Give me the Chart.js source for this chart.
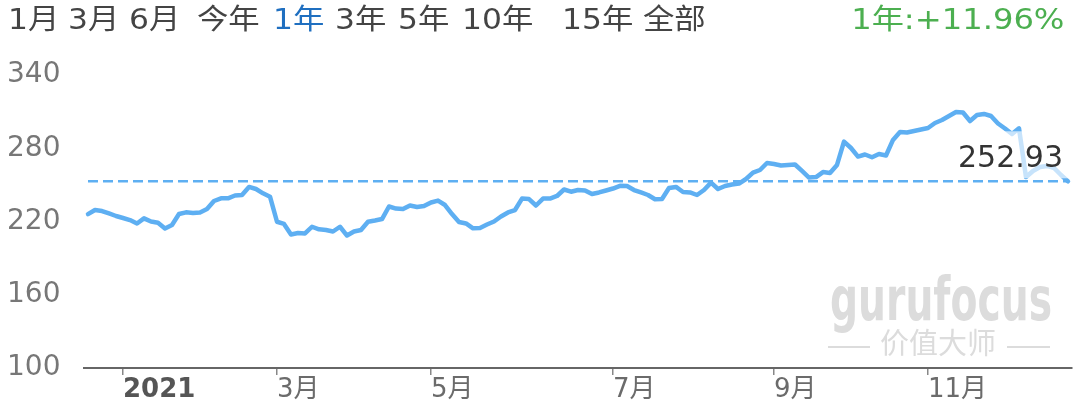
<!DOCTYPE html>
<html>
<head>
<meta charset="utf-8">
<script src="https://cdn.jsdelivr.net/npm/chart.js@4/dist/chart.umd.min.js"></script>
<style>
    html, body { margin: 0; padding: 0; background: #fff; }
    #wrap { position: relative; width: 1080px; height: 415px; overflow: hidden; font-family: "DejaVu Sans", "Noto Sans CJK SC", sans-serif; }
    #chart { position: absolute; left: 0; top: 0; }
    .tab { position: absolute; top: 2px; font-size: 28px; line-height: 36px; color: #444; white-space: nowrap; transform: scaleX(1.12); transform-origin: left center; }
    .tab.active { color: #1f6fc0; }
    #change { position: absolute; top: 2px; right: 16px; font-size: 28px; line-height: 36px; color: #4caf50; white-space: nowrap; transform: scaleX(1.15); transform-origin: right center; }
</style>
</head>
<body>
<div id="wrap">
    <canvas id="chart" width="1080" height="415"></canvas>
    <div id="tabs"></div>
    <div id="change"></div>
</div>
<script>
// datos del gráfico
const rangeTabs = ['1月', '3月', '6月', '今年', '1年', '3年', '5年', '10年', '15年', '全部'];
const activeTab = '1年';
const changeText = '1年:+11.96%';

const yTicks = [100, 160, 220, 280, 340];
const monthLabels = ['2021', '3月', '5月', '7月', '9月', '11月'];
const monthStartIdx = [5, 27, 49, 75, 98, 120];

const prices = [
    226.0, 229.4, 228.6, 226.6, 224.5, 222.9, 221.2, 218.4, 222.6, 220.0,
    219.0, 214.3, 217.1, 226.1, 227.5, 227.0, 227.4, 230.2, 236.8, 239.0,
    239.0, 241.3, 241.7, 248.3, 246.6, 243.1, 240.3, 219.8, 218.0, 209.4,
    210.6, 210.2, 215.7, 213.6, 213.0, 211.8, 215.7, 208.5, 211.8, 213.0,
    219.8, 220.8, 222.0, 232.3, 230.6, 230.2, 233.1, 231.9, 232.7, 235.6,
    237.1, 233.5, 226.1, 219.6, 218.4, 214.4, 214.7, 217.5, 220.0, 224.1,
    227.4, 229.4, 238.8, 238.4, 233.1, 238.8, 238.8, 240.9, 246.2, 244.4,
    245.8, 245.4, 242.5, 243.8, 245.4, 247.0, 249.2, 249.1, 245.8, 243.8,
    241.7, 238.2, 238.4, 247.4, 248.3, 244.2, 243.8, 241.7, 245.8, 251.8,
    246.6, 249.1, 250.3, 251.1, 254.8, 260.0, 262.2, 267.9, 267.1, 265.9,
    266.3, 266.7, 261.4, 256.0, 256.4, 260.5, 259.7, 266.3, 285.4, 280.2,
    273.2, 274.9, 272.6, 275.3, 274.1, 286.8, 293.3, 292.9, 294.1, 295.4,
    296.6, 300.7, 303.1, 306.4, 309.7, 309.3, 302.3, 307.2, 308.1, 306.4,
    300.3, 296.2, 291.7, 296.3, 256.4, 261.4, 264.6, 265.5, 263.8, 258.1,
    252.93
];
const lastPrice = 252.93;

// cabecera con los rangos
const tabLeft = [8, 68, 129, 197, 273, 335, 398, 462, 562, 643];
const tabs = document.getElementById('tabs');
rangeTabs.forEach((t, i) => {
    const s = document.createElement('span');
    s.className = 'tab' + (t === activeTab ? ' active' : '');
    s.style.left = tabLeft[i] + 'px';
    s.innerText = t;
    tabs.appendChild(s);
});
document.getElementById('change').innerText = changeText;

const lineColor = '#5eaff2';

// marca de agua
const watermark = {
    id: 'watermark',
    beforeDatasetsDraw(chart) {
        const ctx = chart.ctx;
        ctx.save();
        ctx.fillStyle = '#dcdcdc';
        ctx.font = 'bold 60px "DejaVu Sans"';
        ctx.textBaseline = 'alphabetic';
        ctx.textAlign = 'left';
        const w = ctx.measureText('gurufocus').width;
        ctx.translate(830, 320);
        ctx.scale(222 / w, 1);
        ctx.fillText('gurufocus', 0, 0);
        ctx.restore();

        ctx.save();
        ctx.fillStyle = '#dcdcdc';
        ctx.font = '29px "Noto Sans CJK SC"';
        ctx.textAlign = 'center';
        ctx.textBaseline = 'middle';
        ctx.fillText('价值大师', 938, 343);
        ctx.fillRect(828, 346, 42, 2);
        ctx.fillRect(1007, 346, 43, 2);
        ctx.restore();
    }
};

// etiqueta del último precio
const lastLabel = {
    id: 'lastLabel',
    afterDatasetsDraw(chart) {
        const ctx = chart.ctx;
        const area = chart.chartArea;
        const y = chart.scales.y.getPixelForValue(lastPrice);
        ctx.save();
        ctx.fillStyle = 'rgba(255,255,255,0.65)';
        ctx.fillRect(area.right - 122, y - 50, 122, 47);
        ctx.fillStyle = '#333';
        ctx.font = '30px "DejaVu Sans"';
        ctx.textAlign = 'right';
        ctx.textBaseline = 'alphabetic';
        ctx.fillText(lastPrice.toFixed(2), area.right - 9, y - 14);
        ctx.restore();
    }
};

new Chart(document.getElementById('chart'), {
    type: 'line',
    data: {
        datasets: [
            {
                data: prices.map((v, i) => ({ x: i, y: v })),
                borderColor: lineColor,
                borderWidth: 4.5,
                pointRadius: 0,
                tension: 0,
                borderJoinStyle: 'round',
                borderCapStyle: 'round'
            },
            {
                data: [{ x: 0, y: lastPrice }, { x: prices.length - 1, y: lastPrice }],
                borderColor: lineColor,
                borderWidth: 2.5,
                borderDash: [10, 5],
                pointRadius: 0
            }
        ]
    },
    options: {
        responsive: false,
        animation: false,
        devicePixelRatio: 1,
        layout: { padding: { left: 7, top: 75, right: 8, bottom: 0 } },
        plugins: { legend: { display: false }, tooltip: { enabled: false } },
        scales: {
            x: {
                type: 'linear',
                min: -0.571,
                max: prices.length - 1 + 0.571,
                afterBuildTicks: s => { s.ticks = monthStartIdx.map(v => ({ value: v })); },
                afterFit: s => { s.height = 47; },
                border: { display: true, color: '#666', width: 2 },
                grid: { display: true, drawOnChartArea: false, tickLength: 7, color: '#888', lineWidth: 1.5 },
                ticks: {
                    autoSkip: false,
                    maxRotation: 0,
                    align: 'start',
                    padding: 0,
                    color: ctx => ctx.index === 0 ? '#555' : '#6b6b6b',
                    font: ctx => ({ family: 'DejaVu Sans, Noto Sans CJK SC', size: 26, weight: ctx.index === 0 ? 'bold' : 'normal' }),
                    callback: v => monthLabels[monthStartIdx.indexOf(v)]
                }
            },
            y: {
                min: yTicks[0],
                max: yTicks[yTicks.length - 1],
                afterBuildTicks: s => { s.ticks = yTicks.map(v => ({ value: v })); },
                afterFit: s => { s.width = 77; },
                border: { display: false },
                grid: { display: false },
                ticks: {
                    crossAlign: 'far',
                    color: '#777',
                    font: { family: 'DejaVu Sans', size: 28 }
                }
            }
        }
    },
    plugins: [watermark, lastLabel]
});
</script>
</body>
</html>
